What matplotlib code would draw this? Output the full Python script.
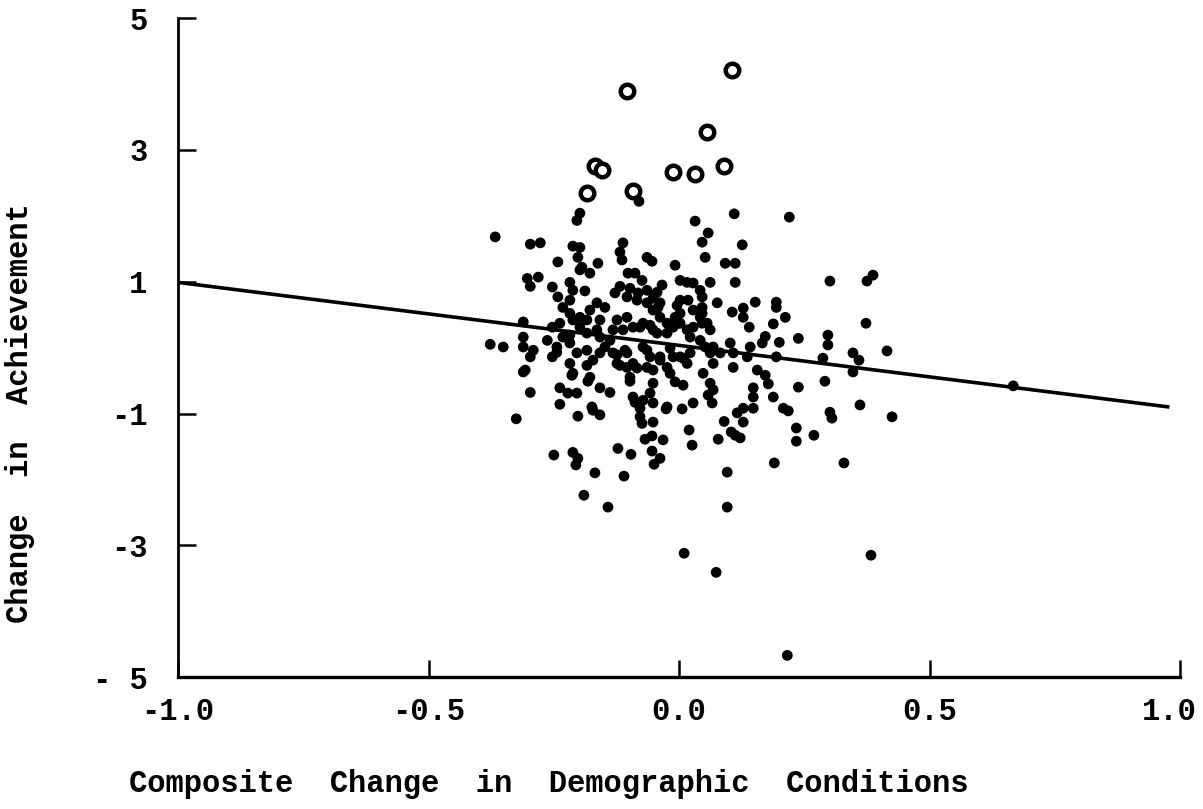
# Change in achievement vs composite demographic change
import numpy as np
import matplotlib
matplotlib.use("Agg")
import matplotlib.pyplot as plt
import matplotlib.transforms as mtransforms

# open circles (large positive changes)
x_open = [0.106, -0.104, 0.056, -0.168, -0.154, -0.012, 0.032, 0.090, -0.184, -0.092]
y_open = [4.22, 3.90, 3.27, 2.75, 2.70, 2.66, 2.63, 2.76, 2.35, 2.38]

# filled points
x_filled = [
    -0.080, -0.198, -0.204, 0.032, 0.110, 0.220, 0.058, 0.046, -0.367, -0.297,
    -0.277, -0.212, -0.198, -0.242, -0.202, -0.198, -0.178, -0.162, -0.118, -0.114,
    -0.064, -0.054, -0.008, 0.052, 0.092, 0.112, 0.126, -0.303, -0.297, -0.281,
    -0.253, -0.242, -0.218, -0.212, -0.218, -0.188, -0.128, -0.118, -0.102, -0.088,
    -0.074, -0.064, -0.044, -0.034, 0.002, 0.016, 0.028, 0.062, 0.112, 0.076,
    0.002, 0.002, 0.002, 0.018, 0.028, 0.042, 0.056, 0.062, -0.104, -0.084,
    -0.064, -0.038, -0.052, -0.038, -0.024, -0.232, -0.218, -0.198, -0.178, -0.164,
    -0.148, -0.311, -0.253, -0.238, -0.198, -0.184, -0.164, -0.124, -0.104, -0.092,
    -0.112, -0.072, -0.052, -0.024, -0.012, 0.022, 0.042, 0.068, 0.082, -0.377,
    -0.351, -0.311, -0.311, -0.291, -0.297, -0.263, -0.244, -0.253, -0.218, -0.204,
    -0.218, -0.212, -0.184, -0.172, -0.178, -0.138, -0.132, -0.124, -0.104, -0.092,
    -0.098, -0.072, -0.058, -0.064, -0.052, -0.038, -0.024, -0.018, 0.002, 0.016,
    0.048, 0.062, 0.068, -0.311, -0.297, -0.238, -0.222, -0.204, -0.158, -0.138,
    -0.052, -0.058, -0.008, 0.008, -0.092, 0.046, 0.152, 0.194, 0.194, 0.106,
    0.128, 0.128, 0.140, 0.212, 0.188, 0.373, 0.046, 0.046, 0.172, 0.166,
    0.200, 0.238, 0.297, 0.297, 0.415, 0.347, 0.359, 0.102, 0.108, 0.142,
    0.136, 0.068, 0.108, 0.194, 0.287, 0.156, 0.172, 0.347, 0.178, 0.238,
    0.291, 0.148, 0.148, 0.188, 0.301, 0.375, 0.387, -0.182, -0.238, -0.172,
    -0.158, -0.202, -0.325, -0.098, -0.088, -0.052, -0.078, -0.072, -0.078, -0.074,
    -0.026, 0.006, 0.028, 0.066, 0.090, -0.052, 0.020, 0.026, 0.078, -0.068,
    -0.054, -0.032, -0.122, -0.096, -0.054, -0.038, -0.050, -0.250, -0.212, -0.202,
    -0.206, -0.168, -0.110, -0.190, -0.142, 0.010, 0.074, 0.096, 0.096, 0.148,
    0.208, 0.218, 0.301, 0.305, 0.361, 0.425, 0.116, 0.128, 0.128, 0.104,
    0.112, 0.122, 0.234, 0.234, 0.269, 0.190, 0.329, 0.383, 0.216, 0.667,
    0.058, -0.244, -0.214, -0.184, -0.158, -0.158, -0.148, -0.124, -0.118, -0.104,
    -0.307, -0.174, -0.232, -0.218, -0.132, -0.078, -0.058, -0.044, -0.002, 0.016,
    0.028, -0.108, -0.064, -0.038, -0.018, -0.012, 0.008, 0.022, 0.052, 0.062,
    -0.084, -0.024, -0.194, -0.212, -0.184, -0.158, -0.098, -0.082, -0.052, -0.042,
    -0.004, -0.008, 0.042, 0.046, -0.112,
]
y_filled = [
    2.22, 2.04, 1.93, 1.92, 2.03, 1.98, 1.74, 1.60, 1.68, 1.57,
    1.59, 1.54, 1.52, 1.30, 1.37, 1.18, 1.13, 1.28, 1.45, 1.33,
    1.37, 1.31, 1.25, 1.37, 1.28, 1.28, 1.56, 1.05, 0.93, 1.07,
    0.92, 0.77, 0.99, 0.87, 0.72, 0.86, 0.83, 0.93, 1.13, 1.13,
    1.02, 0.87, 0.84, 0.95, 1.02, 0.99, 0.98, 0.99, 0.99, 0.68,
    0.72, 0.52, 0.37, 0.72, 0.57, 0.46, 0.37, 0.27, 0.77, 0.72,
    0.68, 0.68, 0.57, 0.46, 0.37, 0.61, 0.52, 0.46, 0.57, 0.68,
    0.61, 0.39, 0.31, 0.37, 0.31, 0.22, 0.27, 0.42, 0.46, 0.31,
    0.27, 0.37, 0.27, 0.22, 0.31, 0.16, 0.11, 0.01, -0.08, 0.05,
    0.01, 0.16, 0.01, -0.04, -0.14, 0.11, 0.01, -0.14, 0.07, -0.08,
    -0.24, -0.39, -0.04, -0.19, -0.45, 0.11, -0.08, -0.24, -0.08, -0.24,
    -0.45, 0.01, -0.14, -0.30, -0.34, -0.14, -0.30, -0.39, -0.14, -0.24,
    -0.39, -0.54, -0.64, -0.37, -0.68, -0.61, -0.69, -0.69, -0.61, -0.68,
    -0.54, -0.69, -0.52, -0.57, -0.75, 0.77, 0.69, 0.69, 0.61, 0.54,
    0.60, 0.46, 0.31, 0.46, 0.36, 0.37, 0.52, 0.37, 0.17, 0.07,
    0.08, 0.14, 0.19, 0.04, -0.05, -0.08, -0.19, 0.07, -0.08, 0.01,
    -0.14, -0.24, -0.30, -0.14, -0.16, -0.34, -0.42, -0.37, -0.55, -0.60,
    -0.51, -0.61, -0.75, -0.75, 1.01, 1.01, 1.10, -0.51, -0.86, -0.95,
    -1.02, -1.04, -1.08, -0.51, -0.83, -0.84, -0.92, -0.80, -1.05, -1.15,
    -0.93, -0.93, -0.84, -0.84, -1.12, -1.13, -1.25, -1.48, -1.39, -1.39,
    -1.34, -1.40, -1.53, -1.62, -1.57, -1.68, -1.77, -1.63, -1.59, -1.68,
    -1.78, -1.90, -1.95, -2.24, -2.42, -3.12, -3.41, -1.89, -2.42, -0.92,
    -0.92, -0.96, -0.98, -1.07, -0.87, -1.05, -0.99, -0.92, -1.13, -1.28,
    -1.33, -1.37, -1.22, -1.42, -1.33, -1.75, -1.75, -3.15, -4.67, -0.58,
    -0.72, -0.07, -0.42, -0.27, 0.16, -0.08, 0.01, -0.11, -0.27, -0.30,
    -0.34, -0.90, 0.16, 0.19, 0.27, 0.31, 0.34, 0.22, 0.37, 0.27,
    0.31, -0.04, -0.04, -0.19, -0.01, -0.14, -0.16, -0.08, 0.01, -0.08,
    -0.31, -0.90, 1.22, 0.42, 0.42, 0.42, 0.90, 0.83, 0.75, 0.61,
    0.64, 0.46, 0.87, 0.61, 1.59,
]

# fitted regression line
fit_intercept = 0.034
fit_slope = -0.956
fit_range = [-1.0, 0.975]

x_ticks = [-1.0, -0.5, 0.0, 0.5, 1.0]
x_ticklabels = ["-1.0", "-0.5", "0.0", "0.5", "1.0"]
y_ticks = [5, 3, 1, -1, -3, -5]
y_ticklabels = ["5", "3", "1", "-1", "-3", "- 5"]

plt.rcParams['font.family'] = ['Liberation Mono', 'DejaVu Sans Mono']
plt.rcParams['font.weight'] = 'bold'

fig = plt.figure(figsize=(12.03, 8.09), dpi=100)
ax = fig.add_axes([0.148, 0.163, 0.833, 0.8146])

ax.scatter(x_filled, y_filled, s=60, color='black', edgecolors='none', zorder=3)
ax.scatter(x_open, y_open, s=95, facecolors='white', edgecolors='black',
           linewidths=3.2, zorder=3)

line_x = np.array(fit_range)
ax.plot(line_x, fit_intercept + fit_slope * line_x, color='black', lw=2.6, zorder=2)

ax.set_xlim(-1.0, 1.0)
ax.set_ylim(-5, 5)
ax.spines['top'].set_visible(False)
ax.spines['right'].set_visible(False)
ax.spines['left'].set_linewidth(2.0)
ax.spines['bottom'].set_linewidth(2.4)

ax.set_xticks(x_ticks)
ax.set_xticklabels(x_ticklabels)
ax.set_yticks(y_ticks)
ax.set_yticklabels(y_ticklabels)
ax.tick_params(axis='x', direction='in', length=12, width=1.8, pad=14, labelsize=22)
ax.tick_params(axis='y', direction='in', length=13, width=1.8, pad=22, labelsize=22)

# keep the last x label inside the figure
last = ax.get_xticklabels()[-1]
last.set_transform(last.get_transform() +
                   mtransforms.ScaledTranslation(-8 / 72, 0, fig.dpi_scale_trans))

ax.set_xlabel("Composite  Change  in  Demographic  Conditions", fontsize=22,
              fontweight='bold')
ax.xaxis.set_label_coords(0.37, -0.14)
ax.set_ylabel("Change  in  Achievement", fontsize=22, fontweight='bold')
ax.yaxis.set_label_coords(-0.143, 0.4)

fig.savefig("out.png", dpi=100)
